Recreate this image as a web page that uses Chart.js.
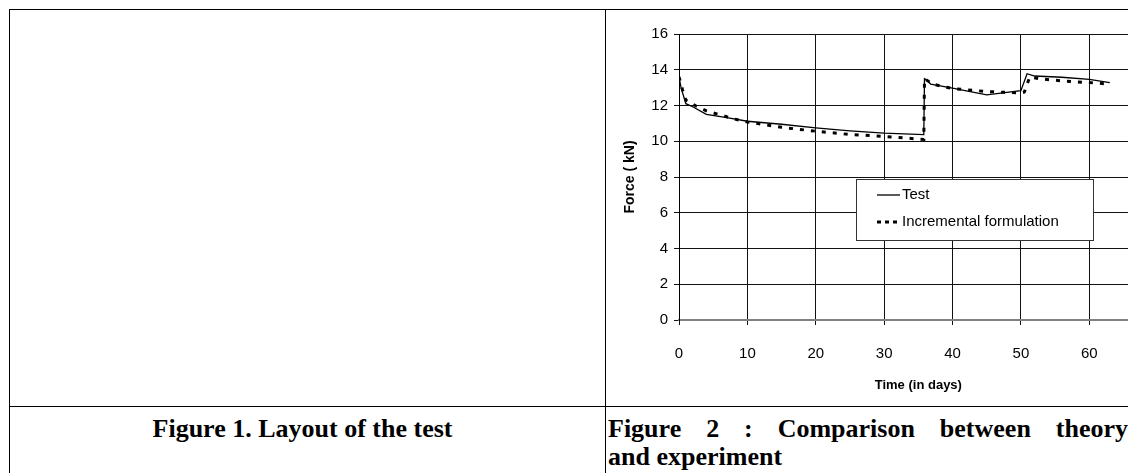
<!DOCTYPE html>
<html>
<head>
<meta charset="utf-8">
<script src="https://cdn.jsdelivr.net/npm/chart.js@4.4.1/dist/chart.umd.min.js"></script>
<style>
  html, body { margin: 0; padding: 0; background: #fff; overflow: hidden; }
  body { width: 1128px; height: 473px; position: relative; }
  .line { position: absolute; background: #000; }
  .cap {
    position: absolute;
    font-family: "Liberation Serif", "Times New Roman", serif;
    font-weight: bold;
    font-size: 26px;
    line-height: 28px;
    color: #000;
  }
  #wrap { position: absolute; left: 606px; top: 10px; width: 580px; height: 395px; }
</style>
</head>
<body>
<!-- table borders -->
<div class="line" style="left:9px;top:9px;width:1200px;height:1px"></div>
<div class="line" style="left:9px;top:9px;width:1px;height:470px"></div>
<div class="line" style="left:605px;top:9px;width:1px;height:470px"></div>
<div class="line" style="left:9px;top:406px;width:1200px;height:1px"></div>

<div class="cap" style="left:10px;top:415px;width:585px;text-align:center">Figure 1. Layout of the test</div>
<div class="cap" style="left:608px;top:415px;width:520px">
  <div style="text-align:justify;text-align-last:justify">Figure 2 : Comparison between theory</div>
  <div>and experiment</div>
</div>

<div id="wrap"><canvas id="c"></canvas></div>

<script>
// Test measurements (days, kN)
const testDays  = [0, 0.3, 1, 2, 4, 7, 10, 15, 20, 25, 30, 35.8, 35.9, 36.3, 36.8, 40, 45, 50, 50.9, 52, 56, 60, 63];
const testForce = [13.6, 13.0, 12.1, 11.93, 11.5, 11.32, 11.12, 10.95, 10.75, 10.58, 10.45, 10.37, 13.5, 13.4, 13.2, 12.97, 12.6, 12.83, 13.78, 13.65, 13.58, 13.46, 13.28];

// Incremental formulation (days, kN)
const incDays  = [0, 0.5, 1, 2.5, 4, 6, 8, 10, 12, 15, 20, 25, 30, 35.8, 35.9, 36.5, 37, 40, 45, 50, 50.5, 51.3, 53, 56, 60, 63];
const incForce = [13.6, 12.9, 12.3, 11.97, 11.7, 11.48, 11.25, 11.08, 10.96, 10.78, 10.56, 10.38, 10.27, 10.1, 13.5, 13.35, 13.2, 12.95, 12.78, 12.7, 12.75, 13.6, 13.48, 13.38, 13.28, 13.2];

const seriesNames = ['Test', 'Incremental formulation'];
const xTitle = 'Time (in days)';
const yTitle = 'Force ( kN)';

const SANS = '"Liberation Sans", Arial, sans-serif';

function toPoints(xs, ys) {
  return xs.map((x, i) => ({ x, y: ys[i] }));
}

// Legend box drawn inside the plot, over the grid
const boxLegend = {
  id: 'boxLegend',
  afterDatasetsDraw(chart) {
    const { ctx, chartArea } = chart;
    const bx = chartArea.left + 177, by = chartArea.top + 145, bw = 237, bh = 61;
    ctx.save();
    ctx.fillStyle = '#fff';
    ctx.fillRect(bx, by, bw, bh);
    ctx.strokeStyle = '#333';
    ctx.lineWidth = 1;
    ctx.strokeRect(bx + 0.5, by + 0.5, bw, bh);
    ctx.font = '15px ' + SANS;
    ctx.fillStyle = '#000';
    ctx.textBaseline = 'middle';
    chart.data.datasets.forEach((ds, i) => {
      const y = by + 16 + i * 27;
      ctx.beginPath();
      ctx.strokeStyle = '#000';
      ctx.lineWidth = ds.borderWidth;
      ctx.setLineDash(ds.borderDash.length ? [4, 4] : []);
      ctx.moveTo(bx + 21, y);
      ctx.lineTo(bx + 44, y);
      ctx.stroke();
      ctx.setLineDash([]);
      ctx.fillText(ds.label, bx + 46, y);
    });
    ctx.restore();
  }
};

new Chart(document.getElementById('c'), {
  type: 'scatter',
  data: {
    datasets: [
      {
        label: seriesNames[0],
        data: toPoints(testDays, testForce),
        showLine: true,
        borderColor: '#000',
        borderWidth: 1.3,
        borderDash: [],
        pointRadius: 0,
        tension: 0
      },
      {
        label: seriesNames[1],
        data: toPoints(incDays, incForce),
        showLine: true,
        borderColor: '#000',
        borderWidth: 3,
        borderDash: [4, 7],
        pointRadius: 0,
        tension: 0
      }
    ]
  },
  options: {
    responsive: true,
    maintainAspectRatio: false,
    animation: false,
    events: [],
    layout: { padding: { left: 0, top: 24, right: 27, bottom: 0 } },
    plugins: { legend: { display: false }, tooltip: { enabled: false } },
    scales: {
      x: {
        type: 'linear',
        min: 0, max: 70,
        afterFit(s) { s.height = 85; },
        ticks: { stepSize: 10, color: '#000', font: { family: SANS, size: 15 }, padding: 20, maxRotation: 0 },
        grid: { color: '#111', lineWidth: 1, tickLength: 5 },
        border: { color: '#808080', width: 2 },
        title: { display: true, text: xTitle, color: '#000', font: { family: SANS, size: 13, weight: 'bold' }, padding: { top: 0, bottom: 12 } }
      },
      y: {
        min: 0, max: 16,
        afterFit(s) { s.width = 73; },
        ticks: { stepSize: 2, color: '#000', font: { family: SANS, size: 15 }, padding: 6 },
        grid: { color: '#111', lineWidth: 1, tickLength: 5 },
        border: { color: '#000', width: 1 },
        title: { display: true, text: yTitle, color: '#000', font: { family: SANS, size: 14, weight: 'bold' }, padding: { top: 16, bottom: 0 } }
      }
    }
  },
  plugins: [boxLegend]
});
</script>
</body>
</html>
